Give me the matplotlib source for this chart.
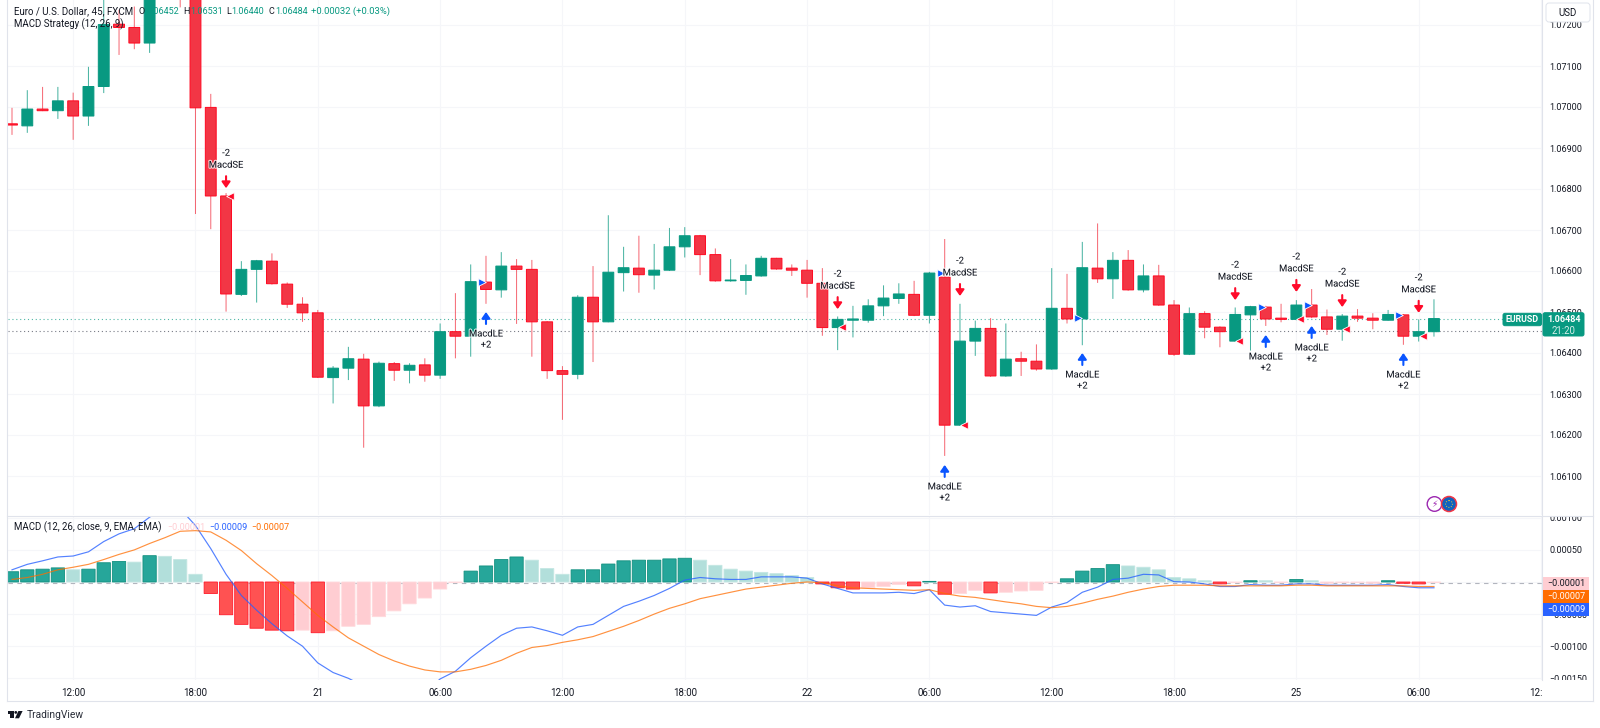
import numpy as np
import matplotlib
matplotlib.use('Agg')
import matplotlib.pyplot as plt
import matplotlib.patheffects as pe
from matplotlib.lines import Line2D
from matplotlib.patches import FancyBboxPatch, Rectangle, Polygon, Circle
from matplotlib.transforms import Affine2D, Bbox

plt.rcParams['font.family'] = ['Roboto', 'DejaVu Sans']

# prices in 1e-5 units
opens = [106959, 106954, 106995, 106991, 107015, 106978, 107050, 107202, 107194, 107156,
         107290, 107380, 107300, 106999, 106783, 106543, 106604, 106624, 106568, 106519,
         106498, 106340, 106363, 106385, 106271, 106374, 106358, 106371, 106346, 106452,
         106441, 106573, 106554, 106612, 106604, 106476, 106357, 106348, 106536, 106476,
         106596, 106607, 106590, 106602, 106659, 106686, 106640, 106576, 106577, 106588,
         106631, 106607, 106602, 106570, 106462, 106480, 106480, 106515, 106533, 106543,
         106492, 106585, 106224, 106429, 106460, 106344, 106386, 106380, 106361, 106509,
         106483, 106607, 106581, 106626, 106554, 106588, 106517, 106397, 106496, 106463,
         106429, 106493, 106512, 106485, 106482, 106517, 106488, 106458, 106490, 106485,
         106480, 106493, 106441, 106452]
highs = [106998, 107041, 107049, 107049, 107035, 107098, 107273, 107237, 107245, 107320,
         107365, 107400, 107320, 107032, 106790, 106624, 106627, 106643, 106572, 106536,
         106505, 106368, 106415, 106398, 106379, 106378, 106375, 106387, 106472, 106546,
         106616, 106637, 106646, 106629, 106627, 106478, 106368, 106541, 106612, 106736,
         106659, 106686, 106666, 106705, 106707, 106688, 106655, 106629, 106616, 106637,
         106632, 106616, 106627, 106607, 106489, 106515, 106531, 106565, 106570, 106576,
         106598, 106678, 106520, 106479, 106485, 106472, 106403, 106421, 106607, 106593,
         106671, 106716, 106646, 106651, 106616, 106615, 106529, 106511, 106502, 106465,
         106511, 106515, 106515, 106520, 106529, 106556, 106506, 106495, 106507, 106497,
         106505, 106495, 106482, 106531]
lows = [106932, 106937, 106990, 106971, 106920, 106954, 107034, 107127, 107141, 107132,
        107275, 107243, 106739, 106702, 106501, 106539, 106523, 106567, 106510, 106476,
        106339, 106277, 106334, 106169, 106268, 106332, 106326, 106330, 106337, 106387,
        106391, 106520, 106535, 106471, 106391, 106337, 106237, 106336, 106378, 106475,
        106550, 106547, 106555, 106600, 106633, 106590, 106574, 106574, 106542, 106586,
        106603, 106588, 106535, 106442, 106407, 106438, 106474, 106490, 106520, 106490,
        106472, 106149, 106222, 106393, 106342, 106342, 106344, 106357, 106359, 106472,
        106419, 106571, 106532, 106552, 106548, 106515, 106393, 106395, 106436, 106414,
        106427, 106406, 106466, 106475, 106480, 106485, 106444, 106430, 106476, 106458,
        106479, 106420, 106428, 106440]
closes = [106956, 106995, 106991, 107015, 106978, 107050, 107201, 107194, 107156, 107290,
          107340, 107300, 106998, 106783, 106544, 106604, 106625, 106569, 106519, 106498,
          106341, 106363, 106386, 106271, 106375, 106358, 106370, 106346, 106452, 106441,
          106574, 106555, 106612, 106604, 106476, 106357, 106348, 106536, 106476, 106597,
          106608, 106591, 106602, 106659, 106686, 106640, 106576, 106578, 106589, 106631,
          106605, 106602, 106570, 106462, 106482, 106483, 106515, 106534, 106544, 106492,
          106595, 106224, 106429, 106460, 106344, 106385, 106380, 106361, 106509, 106483,
          106608, 106581, 106626, 106554, 106588, 106517, 106397, 106496, 106463, 106452,
          106494, 106513, 106483, 106482, 106517, 106488, 106458, 106490, 106485, 106480,
          106494, 106441, 106452, 106484]

# macd pane, 1e-5 units
hist = [16, 19, 20, 22, 19, 20, 30, 32, 31, 41, 40, 35, 12, -18, -51, -66, -72, -75, -76, -75,
        -79, -76, -69, -66, -54, -45, -34, -25, -11, -1, 17, 25, 35, 39, 34,
        21, 12, 19, 19, 28, 33, 34, 34, 36, 37, 34, 26, 20, 17, 15, 13, 10, 7, -3, -9,
        -11, -9, -7, -4, -6, 1, -19, -18, -13, -17, -16, -14, -13, -1, 5, 17, 21, 27, 25, 23,
        19, 7, 5, 2, -3, -1, 2, 2, -1, 4, 2, -2, -1, -1, -2, 2, -2, -3, -1]
hist_strong = [1, 1, 1, 1, 0, 1, 1, 1, 0, 1, 0, 0, 0, 1, 1, 1, 1, 1, 1, 0,
               1, 0, 0, 0, 0, 0, 0, 0, 0, 0, 1, 1, 1, 1, 0,
               0, 0, 1, 1, 1, 1, 1, 1, 1, 1, 0, 0, 0, 0, 0, 0, 0, 0, 1, 1,
               1, 0, 0, 0, 1, 1, 1, 0, 0, 1, 0, 0, 0, 0, 1, 1, 1, 1, 0, 0,
               0, 0, 0, 0, 1, 0, 1, 0, 0, 1, 0, 0, 0, 0, 0, 1, 1, 1, 0]
macd_line = [19, 27.5, 33, 39, 40.5, 47, 63, 75, 83, 101, 115, 114, 88, 52, 12, -21, -44, -65, -84, -100,
             -126, -141, -150, -162, -172, -178, -180, -172, -151, -139, -118, -100, -83, -72, -70,
             -76, -83, -70, -66, -52, -38, -30, -21, -10, 3, 7, 5, 4, 4, 8, 8, 8, 6, -3, -10,
             -17, -17, -17, -16, -18, -12, -36, -39, -37, -46, -48, -50, -52, -39, -32, -16, -8, 4, 6, 12,
             11, 0.5, 0, -3, -7, -7, -4, -5, -5, -3, -3, -5, -5, -5, -5, -4, -7, -9, -9]
signal_line = [4, 7, 12, 19, 23, 27.5, 35, 43, 50, 60, 69, 79, 80, 78, 65, 49, 28.5, 10, -10, -31,
               -52, -70, -87, -100, -113, -123, -131, -137, -140, -140, -136, -130, -122, -111, -102,
               -99, -94, -90, -85, -77, -69, -60, -50, -41, -34, -26, -21, -16, -11, -8, -5, -2, 0, -1, -6,
               -9, -10, -11, -12, -13, -12, -18, -22, -24, -27.5, -31, -34, -38, -40, -38, -33, -27, -22, -16, -11,
               -7, -5, -5, -5, -6, -6, -6, -6, -6, -5, -5, -6, -6, -6, -6, -6, -6, -7, -7]

# strategy orders: bar, arrow tip price, fill price
se_bars = [14, 54, 62, 80, 84, 87, 92]
se_tips = [106802, 106507, 106539, 106529, 106549, 106512, 106498]
se_fills = [106783, 106463, 106224, 106429, 106483, 106459, 106441]
le_bars = [31, 61, 70, 82, 85, 91]
le_tips = [106500, 106127, 106400, 106444, 106466, 106400]
le_fills = [106573, 106595, 106485, 106512, 106517, 106493]

price_ticks = [1.061, 1.062, 1.063, 1.064, 1.065, 1.066, 1.067, 1.068, 1.069, 1.070, 1.071, 1.072]
macd_ticks = [100, 50, 0, -50, -100, -150]
macd_tick_labels = ['0.00100', '0.00050', '', '\u22120.00050', '\u22120.00100', '\u22120.00150']
time_ticks = [4, 12, 20, 28, 36, 44, 52, 60, 68, 76, 84, 92, 100]
time_labels = ['12:00', '18:00', '21', '06:00', '12:00', '18:00', '22', '06:00', '12:00', '18:00', '25',
               '06:00', '12:00']
last_price = 1.06484
other_line = 1.06453

GREEN = '#089981'
RED = '#f23645'
TEXT = '#131722'
GRID = '#f5f6f9'
BORDER = '#e0e3eb'

W, H = 1600, 728
LEFT, RIGHT = 7.5, 1542
BAR0, STEP = 12.0, 15.29

fig = plt.figure(figsize=(W / 100, H / 100), dpi=100, facecolor='white')
px = Affine2D().scale(1, -1).translate(0, H)  # picture pixels, y down


def pane(top, bottom):
    a = fig.add_axes([LEFT / W, 1 - bottom / H, (RIGHT - LEFT) / W, (bottom - top) / H])
    a.set_xlim((LEFT - BAR0) / STEP, (RIGHT - BAR0) / STEP)
    for s in a.spines.values():
        s.set_visible(False)
    a.yaxis.tick_right()
    a.set_axisbelow(True)
    a.grid(True, color=GRID, lw=0.8)
    a.tick_params(length=0, labelsize=6.5, labelcolor=TEXT)
    a.set_xticks(time_ticks)
    return a


ax = pane(0, 515)
ax.set_ylim(1.07 - (515 - 107) / 41000, 1.07 + 107 / 41000)
ax.set_xticklabels([])
ax.set_yticks(price_ticks)
ax.set_yticklabels(['%.5f' % p for p in price_ticks])
ax.tick_params(axis='y', pad=5.5)

o = np.array(opens) / 1e5
h = np.array(highs) / 1e5
l = np.array(lows) / 1e5
c = np.array(closes) / 1e5
xs = np.arange(len(o))
cols = [GREEN if c[i] >= o[i] else RED for i in xs]
edges = [GREEN if c[i] >= o[i] else '#ff0a22' for i in xs]

ax.axhline(last_price, color=GREEN, lw=0.8, ls=(0, (1, 2.5)), alpha=0.7, zorder=1)
ax.axhline(other_line, color='#787b86', lw=0.8, ls=(0, (1, 2.5)), zorder=1)

wicks = ax.vlines(xs, l, h, colors=cols, lw=0.72, alpha=0.75, zorder=2)
wicks.set_snap(False)
bars = ax.bar(xs, np.abs(c - o), bottom=np.minimum(o, c), width=0.71, color=cols, edgecolor=edges,
              linewidth=0.72, zorder=3)
for b in bars:
    b.set_snap(False)

halo = [pe.withStroke(linewidth=1.6, foreground='white', alpha=0.75)]
for i, tip, fill in zip(se_bars, se_tips, se_fills):
    ax.annotate('', xy=(i, tip / 1e5), xytext=(0, 12), textcoords='offset pixels', zorder=6,
                arrowprops=dict(arrowstyle='-|>,head_width=0.28,head_length=0.4', color='#ff0a2a', lw=1.5,
                                shrinkA=0, shrinkB=0, mutation_scale=9))
    ax.annotate('MacdSE', xy=(i, tip / 1e5), xytext=(0, 23), textcoords='offset pixels', ha='center',
                va='center', fontsize=6.8, color=TEXT, zorder=7, path_effects=halo)
    ax.annotate('-2', xy=(i, tip / 1e5), xytext=(0, 35), textcoords='offset pixels', ha='center',
                va='center', fontsize=6.8, color=TEXT, zorder=7, path_effects=halo)
    ax.scatter([i + 0.27], [fill / 1e5], marker='<', s=30, color='#ff0a2a', edgecolor='white', linewidth=0.6,
               zorder=6)
for i, tip, fill in zip(le_bars, le_tips, le_fills):
    ax.annotate('', xy=(i, tip / 1e5), xytext=(0, -12), textcoords='offset pixels', zorder=6,
                arrowprops=dict(arrowstyle='-|>,head_width=0.28,head_length=0.4', color='#0a55ff', lw=1.5,
                                shrinkA=0, shrinkB=0, mutation_scale=9))
    ax.annotate('MacdLE', xy=(i, tip / 1e5), xytext=(0, -22), textcoords='offset pixels', ha='center',
                va='center', fontsize=6.8, color=TEXT, zorder=7, path_effects=halo)
    ax.annotate('+2', xy=(i, tip / 1e5), xytext=(0, -33), textcoords='offset pixels', ha='center',
                va='center', fontsize=6.8, color=TEXT, zorder=7, path_effects=halo)
    ax.scatter([i - 0.27], [fill / 1e5], marker='>', s=30, color='#0a55ff', edgecolor='white', linewidth=0.6,
               zorder=6)

# macd pane
ax2 = pane(517, 680)
ax2.set_ylim(-(680 - 582) / 0.642, (582 - 517) / 0.642)
ax2.set_yticks(macd_ticks)
ax2.set_yticklabels(macd_tick_labels)
ax2.set_xticklabels(time_labels)
ax2.tick_params(axis='y', pad=5.5)
ax2.tick_params(axis='x', pad=6, labelsize=7.0)
ax2.axhline(-1, color='#b2b5be', lw=0.8, ls=(0, (4, 4)), zorder=1)

mxs = np.arange(len(hist))
hist_cols = []
hist_edges = []
for v, s in zip(hist, hist_strong):
    if v >= 0:
        hist_cols.append('#26a69a' if s else '#b2dfdb')
        hist_edges.append('#12907f' if s else '#c4e7e3')
    else:
        hist_cols.append('#ff5252' if s else '#ffcdd2')
        hist_edges.append('#ff1a2a' if s else '#ffdadd')
hbars = ax2.bar(mxs, hist, width=0.87, color=hist_cols, edgecolor=hist_edges, linewidth=0.6, zorder=2)
for b in hbars:
    b.set_snap(False)
ax2.plot(mxs, macd_line, color='#2962ff', lw=0.85, alpha=0.8, zorder=3)
ax2.plot(mxs, signal_line, color='#ff6d00', lw=0.85, alpha=0.75, zorder=3)

fig.canvas.draw()
for t in ax2.get_yticklabels():
    t.set_clip_box(Bbox([[RIGHT, H - 680], [W, H - 517]]))
    t.set_clip_on(True)
for t in ax2.get_xticklabels():
    t.set_clip_box(Bbox([[LEFT, 0], [RIGHT + 1, H]]))
    t.set_clip_on(True)


def ftext(x, y, s, **kw):
    kw.setdefault('fontsize', 6.5)
    kw.setdefault('color', TEXT)
    kw.setdefault('va', 'center')
    kw.setdefault('zorder', 8)
    return fig.text(x, y, s, transform=px, **kw)


def tag(x0, y0, x1, y1, color, edge=None, r=2.0):
    fig.add_artist(FancyBboxPatch((x0 + r, y0 + r), x1 - x0 - 2 * r, y1 - y0 - 2 * r,
                                  boxstyle='round,pad=%g,rounding_size=%g' % (r, r), transform=px,
                                  facecolor=color, edgecolor=edge or color, lw=0.7, zorder=7))


# header texts
ftext(14, 11.5, 'Euro / U.S. Dollar, 45, FXCM', fontsize=7.0)
ftext(14, 24.7, 'MACD Strategy (12, 26, 9)', fontsize=6.9)
for lx, vx, lab, val in [(138.5, 146, 'O', '1.06452'), (183, 190, 'H', '1.06531'),
                         (226.7, 231.5, 'L', '1.06440'), (268.7, 275, 'C', '1.06484')]:
    ftext(lx, 11.5, lab)
    ftext(vx, 11.5, val, color=GREEN)
ftext(311, 11.5, '+0.00032 (+0.03%)', color=GREEN, fontsize=6.8)

ftext(14, 527, 'MACD (12, 26, close, 9, EMA, EMA)', fontsize=6.9)
ftext(167, 527, '\u22120.00001', color='#ffcdd2')
ftext(209, 527, '\u22120.00009', color='#2962ff')
ftext(251, 527, '\u22120.00007', color='#ff6d00')

# right side tags
tag(1546, 3, 1590, 22, 'white', BORDER, r=3)
ftext(1568, 12.5, 'USD', ha='center', fontsize=6.9)
tag(1503, 313.3, 1541.5, 325.7, GREEN)
ftext(1522, 319.5, 'EURUSD', ha='center', color='white', fontsize=6.4, fontweight='bold')
tag(1543, 312.7, 1584, 336, GREEN)
ftext(1564, 319.5, '1.06484', ha='center', color='white', fontweight='bold')
ftext(1564, 330.5, '21:20', ha='center', color='#d5efe9', fontsize=6.9)
fig.add_artist(Rectangle((1543, 576.5), 46, 13.3, transform=px, color='#ffcdd2', lw=0, zorder=7))
ftext(1566, 583, '\u22120.00001', ha='center')
fig.add_artist(Rectangle((1543, 589.8), 46, 13.3, transform=px, color='#ff6d00', lw=0, zorder=7))
ftext(1566, 596.5, '\u22120.00007', ha='center', color='white')
fig.add_artist(Rectangle((1543, 603.1), 46, 13.3, transform=px, color='#2962ff', lw=0, zorder=7))
ftext(1566, 609.8, '\u22120.00009', ha='center', color='white')

# pane borders
for x0, y0, x1, y1 in [(7, 0, 7, 701), (7, 701, 1593, 701), (1593, 0, 1593, 701), (7, 515.7, 1593, 515.7),
                       (1542, 0, 1542, 680)]:
    fig.add_artist(Line2D([x0, x1], [y0, y1], transform=px, color=BORDER, lw=0.8, zorder=6))

# event icons
fig.add_artist(Circle((1434.5, 504), 7.3, transform=px, facecolor='white', edgecolor='#9c27b0', lw=1.0, zorder=7))
ftext(1434.5, 504, '\u26a1', ha='center', color='#9c27b0', fontsize=6.5, family='DejaVu Sans')
fig.add_artist(Circle((1449, 504), 7.5, transform=px, facecolor='#0f62bd', edgecolor='#f23645', lw=1.1, zorder=7))
fig.add_artist(Circle((1449, 504), 3.4, transform=px, facecolor='none', edgecolor='#e8c33a', lw=0.7, ls=':',
                      zorder=8))

# logo
fig.add_artist(Rectangle((7.6, 711), 6.6, 2.6, transform=px, color=TEXT, lw=0, zorder=7))
fig.add_artist(Rectangle((10.4, 711), 3.8, 7.3, transform=px, color=TEXT, lw=0, zorder=7))
fig.add_artist(Circle((15.8, 712.4), 1.4, transform=px, color=TEXT, lw=0, zorder=7))
fig.add_artist(Polygon([(18.4, 711), (22.6, 711), (19.0, 718.3), (15.0, 718.3)], transform=px, color=TEXT, lw=0,
                       zorder=7))
ftext(26.5, 714.8, 'TradingView', fontsize=7.4, color='#2a2e39')

fig.savefig('out.png', dpi=100, facecolor='white')
